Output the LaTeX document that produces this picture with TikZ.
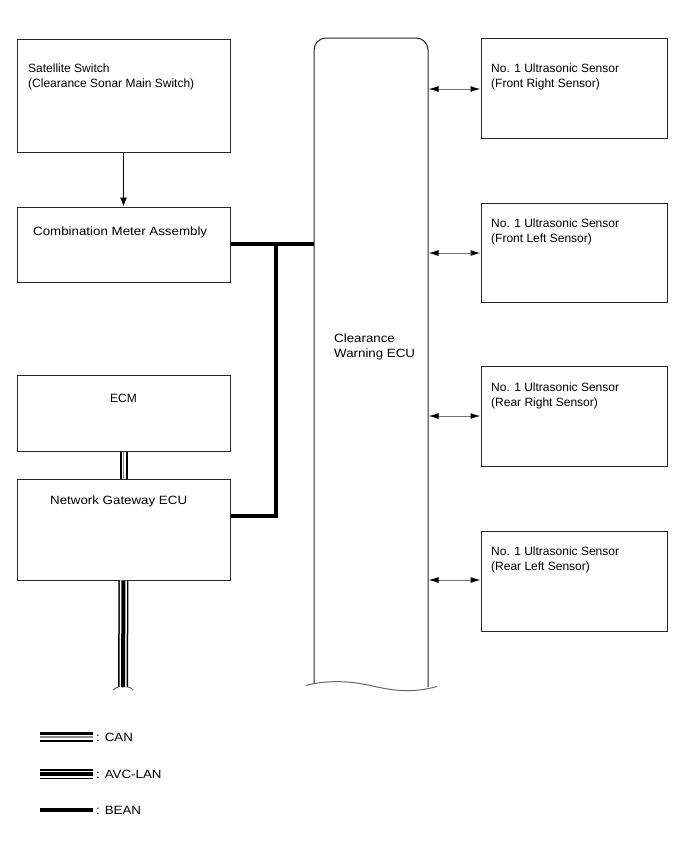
\documentclass[tikz,border=0pt]{standalone}
\usepackage{fontspec}
\usepackage{graphicx}
\setmainfont{Liberation Sans}
\usetikzlibrary{arrows.meta}
\newcommand{\widetxt}[1]{\scalebox{1.11}[1]{#1}}
\begin{document}
\begin{tikzpicture}[x=1pt,y=-1pt,
  box/.style={draw=black!85,line width=1pt,inner sep=0pt,rectangle},
  lbl/.style={inner sep=0pt,font=\fontsize{12}{15}\selectfont,align=left},
  bean/.style={line width=3.5pt},
  canlines/.style={line width=8pt,black,postaction={draw=white,line width=4pt},postaction={draw=black!45,line width=1.1pt}},
  avclines/.style={line width=10pt,black,postaction={draw=white,line width=7pt},postaction={draw=black,line width=4pt}}
]
\useasboundingbox (0,0) rectangle (690,854);

% left boxes
\node[box,minimum width=213pt,minimum height=113pt] (sat) at (123.5,95.5) {};
\node[box,minimum width=213pt,minimum height=75pt] (comb) at (123.5,244.5) {};
\node[box,minimum width=213pt,minimum height=76pt] (ecm) at (123.5,413) {};
\node[box,minimum width=213pt,minimum height=101pt] (gw) at (123.5,529.5) {};

\node[lbl,anchor=west] (satt) at (28,77) {Satellite Switch\\(Clearance Sonar Main Switch)};
\node[lbl,anchor=west] (combt) at (33,232) {\widetxt{Combination Meter Assembly}};
\node[lbl] (ecmt) at (123.5,398) {ECM};
\node[lbl,anchor=west] (gwt) at (50,501) {\widetxt{Network Gateway ECU}};

% right sensors
\node[box,minimum width=186pt,minimum height=100pt] (s1) at (574,88) {};
\node[box,minimum width=186pt,minimum height=99pt] (s2) at (574,252.5) {};
\node[box,minimum width=186pt,minimum height=100pt] (s3) at (574,416) {};
\node[box,minimum width=186pt,minimum height=100pt] (s4) at (574,581) {};

\node[lbl,anchor=west] (s1t) at (491,77) {No. 1 Ultrasonic Sensor\\(Front Right Sensor)};
\node[lbl,anchor=west] (s2t) at (491,232) {No. 1 Ultrasonic Sensor\\(Front Left Sensor)};
\node[lbl,anchor=west] (s3t) at (491,395.5) {No. 1 Ultrasonic Sensor\\(Rear Right Sensor)};
\node[lbl,anchor=west] (s4t) at (491,560) {No. 1 Ultrasonic Sensor\\(Rear Left Sensor)};

% ECU
\node[inner sep=0pt,minimum width=114pt,minimum height=646pt] (ecu) at (371,361) {};
\draw[black!85,line width=1pt,rounded corners=12pt] (314,684) -- (314,38) -- (428,38) -- (428,687);
\draw[black!60,line width=1pt] (306,685.5) .. controls (322,681) and (345,680) .. (368,685)
   .. controls (390,690) and (410,694) .. (437,686.5);
\node[lbl,anchor=west] (ecut) at (334,347) {\widetxt{Clearance}\\\widetxt{Warning ECU}};

% arrows
\draw[-{Latex[length=9pt,width=7pt]},line width=1pt] (sat.south) -- (comb.north);
\foreach \s/\yy in {s1/89,s2/253,s3/416,s4/580}{
  \draw[black!55,line width=1pt,{Latex[length=10pt,width=6pt,fill=black,color=black]}-{Latex[length=10pt,width=6pt,fill=black,color=black]}]
    (428.5,\yy) -- (\s.west |- 0,\yy);
}

% BEAN
\coordinate (j) at (276,244);
\draw[bean] (comb.east |- j) -- (j) -- (ecu.west |- j);
\draw[bean] (j) -- (276,516) -- (gw.east |- 0,516);

% CAN between ECM and gateway
\draw[canlines] (ecm.south) -- (gw.north);
% AVC-LAN below gateway
\coordinate (avcend) at (123,687);
\draw[avclines] (gw.south) -- (avcend);
\draw[black!70,line width=0.8pt] (113,690) .. controls (116,688) and (117,687) .. (118.5,687);
\draw[black!70,line width=0.8pt] (127.5,687) .. controls (130,687) and (131,688) .. (133,690);

% legend
\coordinate (c1) at (40,737); \coordinate (c2) at (93,737);
\draw[line width=10pt,black] (c1) -- (c2);
\draw[line width=5pt,white] (c1) -- (c2);
\draw[black!45,line width=1.1pt] (c1) -- (c2);
\node[lbl,anchor=west] (lcan) at (96,737) {\widetxt{: CAN}};
\coordinate (a1) at (40,774); \coordinate (a2) at (93,774);
\draw[avclines] (a1) -- (a2);
\node[lbl,anchor=west] (lavc) at (96,774) {\widetxt{: AVC-LAN}};
\coordinate (b1) at (40,810); \coordinate (b2) at (93,810);
\draw[bean] (b1) -- (b2);
\node[lbl,anchor=west] (lbean) at (96,810) {\widetxt{: BEAN}};
\end{tikzpicture}
\end{document}
